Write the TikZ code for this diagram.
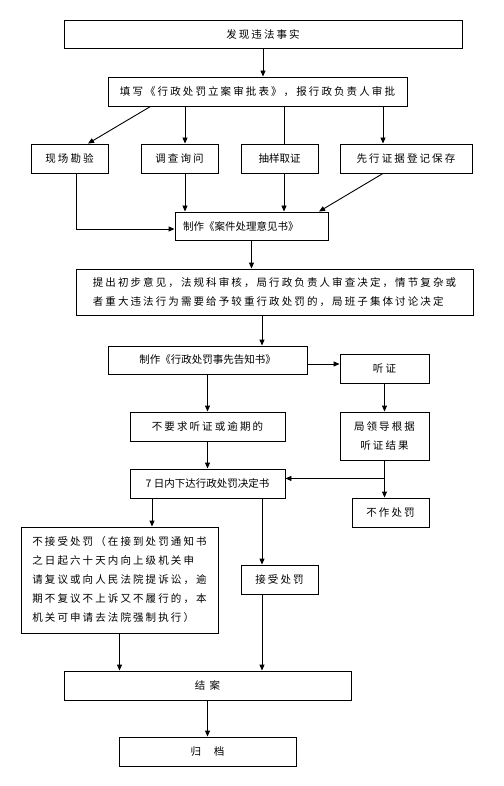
\documentclass[tikz,border=0pt]{standalone}
\usepackage{fontspec}
\usetikzlibrary{arrows.meta}
\newfontfamily\cjk[LetterSpace=20]{Noto Sans CJK SC}
\newfontfamily\cjkn{Noto Sans CJK SC}

\begin{document}
\begin{tikzpicture}[x=1pt, y=-1pt,
          every node/.style={font=\cjk\fontsize{10.5pt}{19pt}\selectfont},
          box/.style={draw, line width=0.9pt, inner sep=0pt, minimum height=29pt},
          tight/.style={font=\cjkn\fontsize{10.5pt}{19pt}\selectfont},
          arr/.style={-{Triangle[length=6pt,width=5pt]}, line width=0.9pt}]
        % Flow of an administrative penalty case, top to bottom.
        % Coordinates: (x,y) in px of the page, y grows downwards
        \useasboundingbox (0,0) rectangle (503,786);
        \node[box, minimum width=398pt, minimum height=28pt] (find) at (263,34) {发现违法事实};
        \node[box, minimum width=299pt] (fill) at (257.5,91.5)
              {填写《行政处罚立案审批表》，报行政负责人审批};
        \node[box, minimum width=77pt] (site) at (69.5,158.5) {现场勘验};
        \node[box, minimum width=77pt] (inquiry) at (179.5,158.5) {调查询问};
        \node[box, minimum width=77pt, tight] (sample) at (279.5,158.5) {抽样取证};
        \node[box, minimum width=132pt] (preserve) at (406,158.5) {先行证据登记保存};
        \node[box, minimum width=153pt, minimum height=28pt, tight,
              text width=137pt, align=left] (opinion) at (251.5,226) {制作《案件处理意见书》};
        \node[box, minimum width=397pt, minimum height=46pt, align=left] (review) at (274.5,292)
              {提出初步意见，法规科审核，局行政负责人审查决定，情节复杂或\\
               者重大违法行为需要给予较重行政处罚的，局班子集体讨论决定};
        \node[box, minimum width=199pt, minimum height=28pt, tight] (notice) at (207.5,360)
              {制作《行政处罚事先告知书》};
        \node[box, minimum width=89pt] (hearing) at (384.5,368.5) {听证};
        \node[box, minimum width=155pt] (nohearing) at (207.5,426.5) {不要求听证或逾期的};
        \node[box, minimum width=89pt, minimum height=48pt, align=center] (leader)
              at (384.5,436) {局领导根据\\听证结果};
        \node[box, minimum width=155pt, tight] (decide) at (207.5,483.5) {7 日内下达行政处罚决定书};
        \node[box, minimum width=77pt] (nopenalty) at (390.5,512.5) {不作处罚};
        \node[box, minimum width=197pt, minimum height=106pt, align=left] (refuse) at (119.5,580)
              {不接受处罚（在接到处罚通知书\\
               之日起六十天内向上级机关申\\
               请复议或向人民法院提诉讼，逾\\
               期不复议不上诉又不履行的，本\\
               机关可申请去法院强制执行）};
        \node[box, minimum width=77pt] (accept) at (279.5,579.5) {接受处罚};
        \node[box, minimum width=287pt] (close) at (207.5,685.5) {结 案};
        \node[box, minimum width=177pt] (archive) at (207.5,751.5) {归\hspace{1.2em}档};
        % connectors
        \draw[arr] (find.south) -- (find.south |- fill.north);
        \draw[arr] ([xshift=43pt]fill.south west) -- ([xshift=18.5pt]site.north);
        \draw[arr] ([xshift=5.5pt]inquiry.north |- fill.south) -- ([xshift=5.5pt]inquiry.north);
        \draw[line width=0.9pt] ([xshift=4.5pt]sample.north |- fill.south) -- ([xshift=4.5pt]sample.north);
        \draw[arr] ([xshift=-23pt]preserve.north |- fill.south) -- ([xshift=-23pt]preserve.north);
        \draw[arr] ([xshift=6.5pt]site.south) |- ([yshift=-3pt]opinion.west);
        \draw[arr] ([xshift=5.5pt]inquiry.south) -- ([xshift=5.5pt]inquiry.south |- opinion.north);
        \draw[arr] ([xshift=4.5pt]sample.south) -- ([xshift=4.5pt]sample.south |- opinion.north);
        \draw[arr] ([xshift=-23pt]preserve.south) -- ([xshift=67.5pt]opinion.north);
        \draw[arr] (opinion.south) -- (opinion.south |- review.north);
        \draw[arr] ([xshift=-12.5pt]review.south) -- ([xshift=-12.5pt]review.south |- notice.north);
        \draw[arr] ([yshift=-4pt]notice.east) -- ([yshift=-4pt]notice.east -| hearing.west);
        \draw[arr] (notice.south) -- (nohearing.north);
        \draw[arr] (hearing.south) -- (leader.north);
        \draw[arr] (nohearing.south) -- (decide.north);
        \coordinate (split) at ([yshift=-18pt]leader.south);
        \draw[line width=0.9pt] (leader.south) -- (split);
        \draw[arr] (split) -- (split -| decide.east);
        \draw[arr] (split) -- (split |- nopenalty.north);
        \draw[arr] ([xshift=-55.5pt]decide.south) -- ([xshift=-55.5pt]decide.south |- refuse.north);
        \draw[arr] ([xshift=54.5pt]decide.south) -- ([xshift=54.5pt]decide.south |- accept.north);
        \draw[arr] (refuse.south) -- (refuse.south |- close.north);
        \draw[arr] ([xshift=-17.5pt]accept.south) -- ([xshift=-17.5pt]accept.south |- close.north);
        \draw[arr] (close.south) -- (archive.north);
      \end{tikzpicture}
\end{document}
